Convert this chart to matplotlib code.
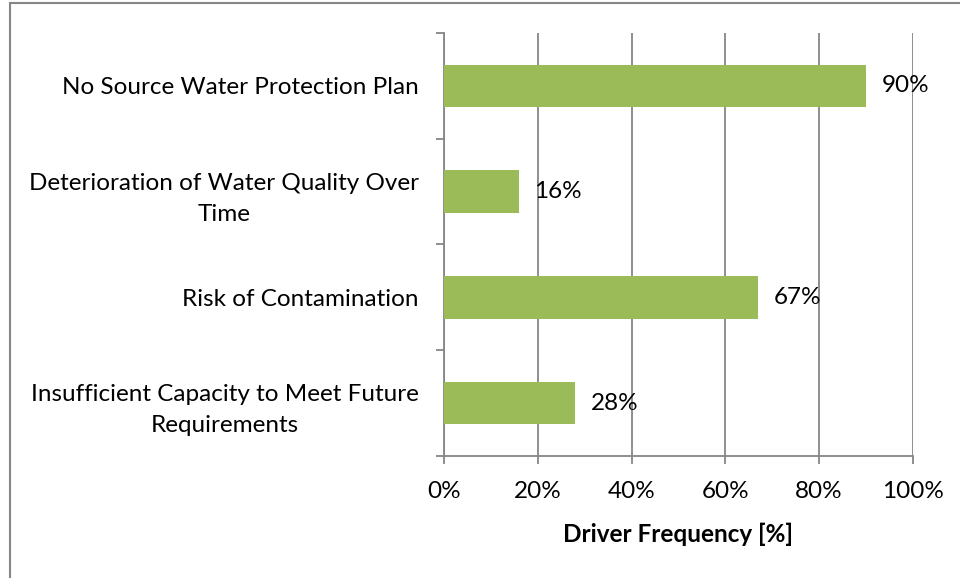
#!/usr/bin/env python3

import matplotlib.pyplot as plt
from matplotlib.patches import Rectangle
from matplotlib.ticker import FixedLocator

CATEGORIES = [
    "No Source Water Protection Plan",
    "Deterioration of Water Quality Over\nTime",
    "Risk of Contamination",
    "Insufficient Capacity to Meet Future\nRequirements",
]
VALUES = [90, 16, 67, 28]
X_TICKS = [0, 20, 40, 60, 80, 100]

BAR_COLOR = "#9BBB59"
AXIS_GRAY = "#868686"
FS = 17.5

plt.rcParams["font.family"] = ["Lato", "DejaVu Sans"]


def main():
    fig = plt.figure(figsize=(9.6, 5.78), dpi=100)
    ax = fig.add_axes([0.4625, 0.211, 0.4885, 0.732])

    ypos = list(range(len(CATEGORIES)))[::-1]
    ax.barh(ypos, VALUES, height=0.4, color=BAR_COLOR, zorder=3)

    for y, v in zip(ypos, VALUES):
        ax.annotate(f"{v}%", (v, y), xytext=(11, 0), textcoords="offset points",
                    va="center", ha="left", fontsize=FS, color="black", zorder=4)

    ax.set_xlim(0, 100)
    ax.set_ylim(-0.5, len(CATEGORIES) - 0.5)
    ax.set_xticks(X_TICKS)
    ax.set_xticklabels([f"{t}%" for t in X_TICKS], fontsize=FS)
    ax.set_yticks(ypos)
    ax.set_yticklabels(CATEGORIES, fontsize=FS, multialignment="center", linespacing=1.6)
    ax.tick_params(axis="y", length=0, pad=18)
    ax.yaxis.set_minor_locator(FixedLocator([i - 0.5 for i in range(len(CATEGORIES) + 1)]))
    ax.tick_params(axis="y", which="minor", length=6, width=1.3, color=AXIS_GRAY)
    ax.tick_params(axis="x", length=6, width=1.3, color=AXIS_GRAY, pad=12)

    ax.grid(axis="x", color=AXIS_GRAY, linewidth=1.3, zorder=0)
    for side in ("top", "right"):
        ax.spines[side].set_visible(False)
    for side in ("left", "bottom"):
        ax.spines[side].set_color(AXIS_GRAY)
        ax.spines[side].set_linewidth(1.3)

    ax.set_xlabel("Driver Frequency [%]", fontsize=FS, fontweight="bold", labelpad=15)

    fig.patches.append(Rectangle((10 / 960, -0.1), 1.2, 1 - 3 / 578 + 0.1,
                                 transform=fig.transFigure, fill=False,
                                 edgecolor=AXIS_GRAY, linewidth=1.5))

    fig.savefig("out.png", dpi=100)


if __name__ == "__main__":
    main()
